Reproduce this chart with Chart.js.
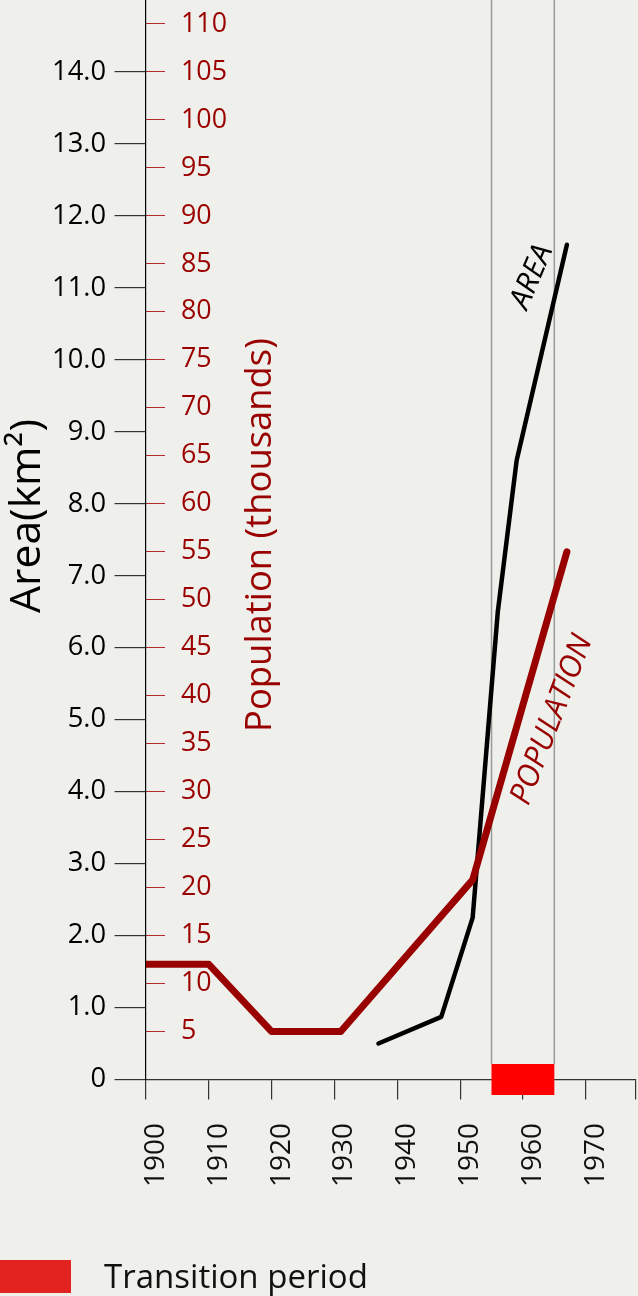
<!DOCTYPE html>
<html>
<head>
<meta charset="utf-8">
<script src="https://cdn.jsdelivr.net/npm/chart.js@4.4.0/dist/chart.umd.min.js"></script>
<style>
  html, body { margin: 0; padding: 0; background: #eff0eb; }
  canvas { display: block; }
</style>
</head>
<body>
<canvas id="chart" width="638" height="1296"></canvas>
<script>
// values
const popYears = [1900, 1910, 1920, 1931, 1952, 1967];
const popValues = [12, 12, 5, 5, 20.8, 55];            // thousands
const areaYears = [1937, 1947, 1952, 1956, 1959, 1967];
const areaValues = [0.5, 0.87, 2.25, 6.5, 8.6, 11.6];  // km²

const yearTicks = [1900, 1910, 1920, 1930, 1940, 1950, 1960, 1970];
const areaTicks = [0, 1, 2, 3, 4, 5, 6, 7, 8, 9, 10, 11, 12, 13, 14];
const popTicks = [5, 10, 15, 20, 25, 30, 35, 40, 45, 50, 55, 60, 65, 70, 75, 80, 85, 90, 95, 100, 105, 110];
const transitionPeriod = [1955, 1965];

const FONT = '"Open Sans", "Noto Sans", sans-serif';
const RED = '#990000';

// pick font sizes so text widths match the picture
const measureCtx = document.createElement('canvas').getContext('2d');
function fitSize(text, width, style = '') {
  measureCtx.font = `${style} 100px ${FONT}`;
  return 100 * width / measureCtx.measureText(text).width;
}
const areaTickSize = fitSize('14.0', 54);
const popTickSize = fitSize('110', 46);
const yearTickSize = fitSize('1900', 64);
const areaTitleSize = fitSize('Area(km²)', 194);
const popTitleSize = fitSize('Population (thousands)', 394);
const legendSize = fitSize('Transition period', 264);

function drawText(ctx, text, x, y, angle, font, color, align = 'center', baseline = 'middle') {
  ctx.save();
  ctx.translate(x, y);
  ctx.rotate(angle * Math.PI / 180);
  ctx.font = font;
  ctx.fillStyle = color;
  ctx.textAlign = align;
  ctx.textBaseline = baseline;
  ctx.fillText(text, 0, 0);
  ctx.restore();
}

const overlay = {
  id: 'overlay',
  beforeDatasetsDraw(chart) {
    const { ctx, chartArea, scales: { x, area } } = chart;
    const bandTop = area.getPixelForValue(0) - 15.5;
    ctx.save();
    ctx.strokeStyle = '#9a9a9a';
    ctx.lineWidth = 1.5;
    transitionPeriod.forEach(yr => {
      const px = x.getPixelForValue(yr);
      ctx.beginPath();
      ctx.moveTo(px, chartArea.top);
      ctx.lineTo(px, bandTop);
      ctx.stroke();
    });
    ctx.restore();
  },
  afterDraw(chart) {
    const { ctx, scales: { x, area } } = chart;
    const x0 = x.getPixelForValue(transitionPeriod[0]);
    const x1 = x.getPixelForValue(transitionPeriod[1]);
    const yZero = area.getPixelForValue(0);
    ctx.save();
    ctx.fillStyle = '#ff0000';
    ctx.fillRect(x0, yZero - 15.5, x1 - x0, 31);

    // axis titles
    drawText(ctx, 'Area(km²)', 40, 516, -90, `${areaTitleSize}px ${FONT}`, '#000', 'center', 'alphabetic');
    drawText(ctx, 'Population (thousands)', 271, 535, -90, `${popTitleSize}px ${FONT}`, RED, 'center', 'alphabetic');

    // line labels
    drawText(ctx, 'AREA', 532, 277, -67, `italic 30px ${FONT}`, '#000');
    drawText(ctx, 'POPULATION', 552, 720, -69, `italic 31px ${FONT}`, RED);

    // legend
    ctx.fillStyle = '#e32320';
    ctx.fillRect(0, 1260, 71, 33);
    drawText(ctx, 'Transition period', 104, 1288, 0, `${legendSize}px ${FONT}`, '#111', 'left', 'alphabetic');
    ctx.restore();
  }
};

new Chart(document.getElementById('chart'), {
  type: 'line',
  data: {
    datasets: [
      {
        label: 'Population',
        yAxisID: 'pop',
        data: popYears.map((yr, i) => ({ x: yr, y: popValues[i] })),
        borderColor: RED,
        borderWidth: 7,
        pointRadius: 0,
        borderCapStyle: 'round',
        borderJoinStyle: 'round'
      },
      {
        label: 'Area',
        yAxisID: 'area',
        data: areaYears.map((yr, i) => ({ x: yr, y: areaValues[i] })),
        borderColor: '#000',
        borderWidth: 4.5,
        pointRadius: 0,
        borderCapStyle: 'round',
        borderJoinStyle: 'round'
      }
    ]
  },
  options: {
    responsive: false,
    animation: false,
    events: [],
    layout: { autoPadding: false, padding: { left: 0, right: 2, top: 0, bottom: 0 } },
    plugins: { legend: { display: false }, tooltip: { enabled: false } },
    scales: {
      x: {
        type: 'linear', position: 'bottom', min: 1900, max: 1978,
        afterBuildTicks: s => { s.ticks = yearTicks.concat([s.max]).map(v => ({ value: v })); },
        afterFit: s => { s.height = 1296 - 1079.5; s.paddingLeft = 0; s.paddingRight = 0; },
        grid: { drawOnChartArea: false, tickLength: 20, color: '#333', lineWidth: 1.2 },
        border: { color: '#333', width: 1.2 },
        ticks: {
          autoSkip: false, minRotation: 90, maxRotation: 90, padding: 23.5, color: '#111',
          font: { family: FONT, size: yearTickSize, lineHeight: '20px' },
          showLabelBackdrop: true, backdropColor: 'rgba(0,0,0,0)', backdropPadding: 0,
          callback: v => yearTicks.includes(v) ? String(v) : ''
        }
      },
      area: {
        type: 'linear', position: 'left', weight: 1, min: 0, max: 15,
        afterBuildTicks: s => { s.ticks = areaTicks.map(v => ({ value: v })); },
        afterFit: s => { s.width = 146; s.paddingTop = 0; s.paddingBottom = 0; },
        grid: { drawOnChartArea: false, tickLength: 31.5, color: '#333', lineWidth: 1.2 },
        border: { color: '#000', width: 1.2 },
        ticks: {
          autoSkip: false, padding: 8.5, color: '#000',
          font: { family: FONT, size: areaTickSize },
          callback: v => v === 0 ? '0' : v.toFixed(1)
        }
      },
      pop: {
        type: 'linear', position: 'left', weight: 0, min: 0, max: 112.5,
        afterBuildTicks: s => { s.ticks = popTicks.map(v => ({ value: v })); },
        afterFit: s => { s.width = 0; s.paddingTop = 0; s.paddingBottom = 0; },
        grid: { drawOnChartArea: false, tickLength: -19, color: '#b52a2a', lineWidth: 1 },
        border: { display: false },
        ticks: {
          autoSkip: false, mirror: true, crossAlign: 'near', padding: 35, color: '#9a0000',
          font: { family: FONT, size: popTickSize }
        }
      }
    }
  },
  plugins: [overlay]
});
</script>
</body>
</html>
